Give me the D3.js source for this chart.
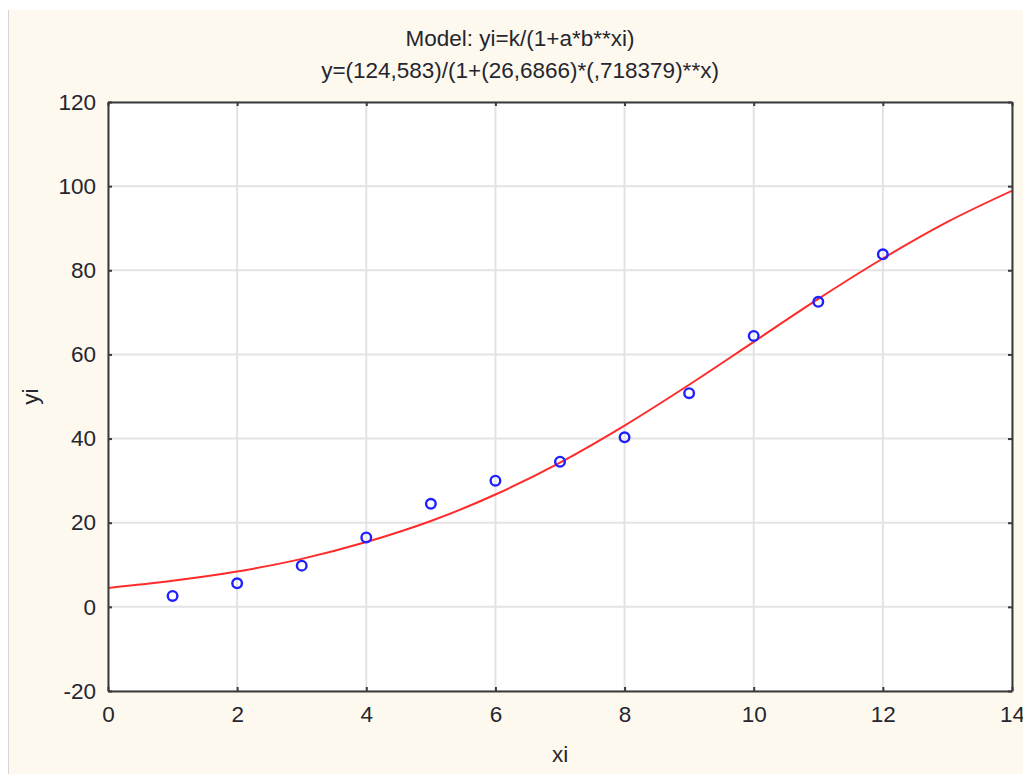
<!DOCTYPE html>
<html>
<head>
<meta charset="utf-8">
<script src="https://cdn.jsdelivr.net/npm/d3@7"></script>
<style>
  body { margin: 0; background: #fff; }
  svg { display: block; }
  text { font-family: "Liberation Sans", Arial, sans-serif; fill: #26262e; }
</style>
</head>
<body>
<svg id="chart"></svg>
<script>
// observed points
const xi = [1, 2, 3, 4, 5, 6, 7, 8, 9, 10, 11, 12];
const yi = [2.6, 5.6, 9.8, 16.5, 24.5, 30.0, 34.5, 40.3, 50.8, 64.4, 72.5, 83.8];

// fitted curve at whole x values
const curveX = [0, 1, 2, 3, 4, 5, 6, 7, 8, 9, 10, 11, 12, 13, 14];
const curveY = [4.5, 6.2, 8.4, 11.4, 15.4, 20.4, 26.7, 34.3, 43.1, 52.8, 63.0, 73.2, 82.8, 91.5, 98.9];

const xTicks = [0, 2, 4, 6, 8, 10, 12, 14];
const yTicks = [-20, 0, 20, 40, 60, 80, 100, 120];

const titleLines = ['Model: yi=k/(1+a*b**xi)', 'y=(124,583)/(1+(26,6866)*(,718379)**x)'];

const width = 1023;
const height = 774;
const margin = { top: 102, right: 11, bottom: 83, left: 108 };
const innerW = width - margin.left - margin.right;
const innerH = height - margin.top - margin.bottom;

const svg = d3.select('#chart')
  .attr('width', width)
  .attr('height', height);

// page + cream panel
svg.append('rect').attr('width', width).attr('height', height).attr('fill', '#fff');
svg.append('rect')
  .attr('x', 8).attr('y', 10)
  .attr('width', width - 8).attr('height', height - 10)
  .attr('fill', '#fdf9ef');
svg.append('line')
  .attr('x1', 8.5).attr('x2', 8.5).attr('y1', 10).attr('y2', height)
  .attr('stroke', '#d6d6d6');

const x = d3.scaleLinear().domain([0, 14]).range([0, innerW]);
const y = d3.scaleLinear().domain([-20, 120]).range([innerH, 0]);

const g = svg.append('g')
  .attr('transform', `translate(${margin.left}, ${margin.top})`);

g.append('rect')
  .attr('width', innerW).attr('height', innerH)
  .attr('fill', '#fff');

// grid
g.append('g').selectAll('line')
  .data(xTicks)
  .enter().append('line')
  .attr('x1', (d) => x(d)).attr('x2', (d) => x(d))
  .attr('y1', 0).attr('y2', innerH)
  .attr('stroke', '#e3e3e3').attr('stroke-width', 2);

g.append('g').selectAll('line')
  .data(yTicks)
  .enter().append('line')
  .attr('x1', 0).attr('x2', innerW)
  .attr('y1', (d) => y(d)).attr('y2', (d) => y(d))
  .attr('stroke', '#e3e3e3').attr('stroke-width', 2);

// fitted curve
const clip = svg.append('clipPath').attr('id', 'plotclip');
clip.append('rect').attr('width', innerW).attr('height', innerH);

const line = d3.line()
  .x((d, i) => x(curveX[i]))
  .y((d) => y(d))
  .curve(d3.curveMonotoneX);

g.append('path')
  .datum(curveY)
  .attr('clip-path', 'url(#plotclip)')
  .attr('fill', 'none')
  .attr('stroke', '#ff2b2b')
  .attr('stroke-width', 2)
  .attr('d', line);

// points
g.append('g').selectAll('circle')
  .data(yi)
  .enter().append('circle')
  .attr('cx', (d, i) => x(xi[i]))
  .attr('cy', (d) => y(d))
  .attr('r', 4.8)
  .attr('fill', 'none')
  .attr('stroke', '#1f1fff')
  .attr('stroke-width', 2.4);

// axes (ticks point inwards)
const fmt = (d) => String(d);
const axisX = d3.axisBottom(x).tickValues(xTicks).tickFormat(fmt).tickSizeInner(-4).tickSizeOuter(0).tickPadding(15);
const axisY = d3.axisLeft(y).tickValues(yTicks).tickFormat(fmt).tickSizeInner(-4).tickSizeOuter(0).tickPadding(12);
const axisTop = d3.axisTop(x).tickValues(xTicks).tickSizeInner(-4).tickSizeOuter(0).tickFormat('');
const axisRight = d3.axisRight(y).tickValues(yTicks).tickSizeInner(-4).tickSizeOuter(0).tickFormat('');

function styleAxis(sel) {
  sel.selectAll('path').attr('stroke', '#3a3a3a').attr('stroke-width', 2);
  sel.selectAll('line').attr('stroke', '#3a3a3a').attr('stroke-width', 2);
  sel.selectAll('text')
    .attr('font-family', '"Liberation Sans", Arial, sans-serif')
    .attr('font-size', 22.5)
    .attr('fill', '#26262e');
}

g.append('g').attr('transform', `translate(0, ${innerH})`).call(axisX).call(styleAxis);
g.append('g').call(axisY).call(styleAxis);
g.append('g').call(axisTop).call(styleAxis);
g.append('g').attr('transform', `translate(${innerW}, 0)`).call(axisRight).call(styleAxis);

// titles
svg.append('g').selectAll('text')
  .data(titleLines)
  .enter().append('text')
  .attr('x', 520)
  .attr('y', (d, i) => 46 + i * 32)
  .attr('text-anchor', 'middle')
  .attr('font-size', 22.5)
  .text((d) => d);

svg.append('text')
  .attr('x', margin.left + innerW / 2)
  .attr('y', 762)
  .attr('text-anchor', 'middle')
  .attr('font-size', 22.5)
  .text('xi');

svg.append('text')
  .attr('transform', `translate(38, ${margin.top + innerH / 2}) rotate(-90)`)
  .attr('text-anchor', 'middle')
  .attr('font-size', 22.5)
  .text('yi');
</script>
</body>
</html>
